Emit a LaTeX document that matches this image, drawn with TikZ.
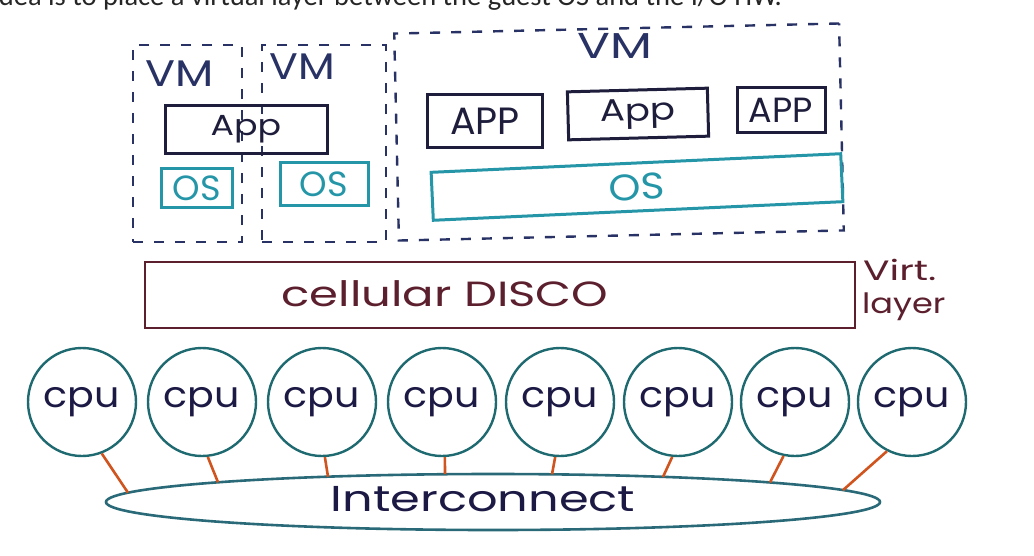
\documentclass[tikz,border=0pt]{standalone}
\usepackage{fontspec}
\setmainfont{Poppins}
\newfontfamily\topfont{Carlito}
\usetikzlibrary{shapes.geometric,calc}
\definecolor{vmcol}{HTML}{283264}
\definecolor{appcol}{HTML}{1E1E3C}
\definecolor{oscol}{HTML}{2596A8}
\definecolor{discocol}{HTML}{5C1F2E}
\definecolor{cpucol}{HTML}{1F6A70}
\definecolor{cputext}{HTML}{1C1A45}
\definecolor{iccol}{HTML}{2A6A78}
\definecolor{linkcol}{HTML}{D0541E}
\newcommand{\fs}[1]{\fontsize{#1}{#1}\selectfont}
\newcommand{\wide}[2]{\scalebox{#1}[1]{#2}}
\tikzset{
  vmbox/.style={draw=vmcol, line width=2.4pt, dash pattern=on 10pt off 11pt, minimum width=#1},
  vmlabel/.style={text=vmcol, inner sep=0pt},
  appbox/.style={draw=appcol, line width=3pt, text=appcol, inner sep=0pt},
  osbox/.style={draw=oscol, line width=3pt, text=oscol, inner sep=0pt},
  cpunode/.style={circle, draw=cpucol, line width=2.4pt, minimum size=108pt, inner sep=0pt, text=cputext},
  link/.style={draw=linkcol, line width=2.6pt}
}
\begin{document}
\begin{tikzpicture}[x=1pt,y=-1pt]
\useasboundingbox (0,0) rectangle (1034,555);
\fill[white] (0,0) rectangle (1034,555);
% cut-off caption at the top
\begin{scope}
\clip (0,0) rectangle (1034,555);
\node[anchor=base east, inner sep=0pt, text=black!85] (caption) at (782,5)
  {\topfont\fs{28.5}idea is to place a virtual layer between the guest OS and the I/O HW.};
\end{scope}
% VM frames
\node[vmbox=109pt, minimum height=197pt] (vm1) at (187.5,143.5) {};
\node[vmbox=124pt, minimum height=197pt] (vm2) at (324,143.5) {};
\node[vmbox=445pt, minimum height=207pt, rotate=1.3] (vm3) at (619,132) {};
\node[vmlabel] (vm1l) at (180,74) {\fs{37}\wide{1.2}{VM}};
\node[vmlabel] (vm2l) at (302,67) {\fs{37}\wide{1.15}{VM}};
\node[vmlabel] (vm3l) at (615,46) {\fs{36}\wide{1.35}{VM}};
% apps
\node[appbox, minimum width=162pt, minimum height=48pt] (app1) at (246,129) {\fs{29}\wide{1.2}{App}};
\node[appbox, minimum width=115pt, minimum height=53pt] (app2) at (485,121) {\fs{38}APP};
\node[appbox, minimum width=140pt, minimum height=48pt, rotate=1.5] (app3) at (638,114) {\fs{31}\wide{1.2}{App}};
\node[appbox, minimum width=88pt, minimum height=45pt] (app4) at (781,110) {\fs{35}APP};
% OSes
\node[osbox, minimum width=71pt, minimum height=39pt] (os1) at (197,188) {\fs{35}OS};
\node[osbox, minimum width=88pt, minimum height=43pt] (os2) at (324,184) {\fs{35}OS};
\node[osbox, minimum width=410pt, minimum height=48pt, rotate=2.6] (os3) at (637,187) {\fs{37}\wide{1.1}{OS}};
% virtualization layer
\node[draw=discocol, line width=2.6pt, minimum width=710pt, minimum height=66pt, inner sep=0pt] (disco) at (500,295) {};
\node[text=discocol, inner sep=0pt] (discol) at (445,294) {\fs{35}\wide{1.33}{cellular DISCO}};
\node[text=discocol, inner sep=0pt, anchor=west] (virt) at (863,270) {\fs{28}\wide{1.4}{Virt.}};
\node[text=discocol, inner sep=0pt, anchor=west] (layer) at (862,307) {\fs{28}\wide{1.2}{layer}};
% CPUs
\foreach \i/\x in {1/82,2/202,3/322,4/442,5/560,6/678,7/795,8/912}{
  \node[cpunode] (cpu\i) at (\x,402) {\fs{36}\wide{1.1}{cpu}};
}
% interconnect
\node[ellipse, draw=iccol, line width=2.6pt, minimum width=774pt, minimum height=56pt, inner sep=0pt] (ic) at (493,502) {};
\node[text=cputext, inner sep=0pt] (icl) at (483,499) {\fs{36}\wide{1.33}{Interconnect}};
% links
\draw[link] (cpu1.291) -- ($(ic.center)+(-365,-9.3)$);
\draw[link] (cpu2.276) -- ($(ic.center)+(-275,-19.7)$);
\draw[link] (cpu3.273) -- ($(ic.center)+(-165,-25.3)$);
\draw[link] (cpu4.273) -- ($(ic.center)+(-48,-27.8)$);
\draw[link] (cpu5.265) -- ($(ic.center)+(59,-27.7)$);
\draw[link] (cpu6.264) -- ($(ic.center)+(170,-25.1)$);
\draw[link] (cpu7.258) -- ($(ic.center)+(277,-19.6)$);
\draw[link] (cpu8.243) -- ($(ic.center)+(350,-11.9)$);
\end{tikzpicture}
\end{document}
